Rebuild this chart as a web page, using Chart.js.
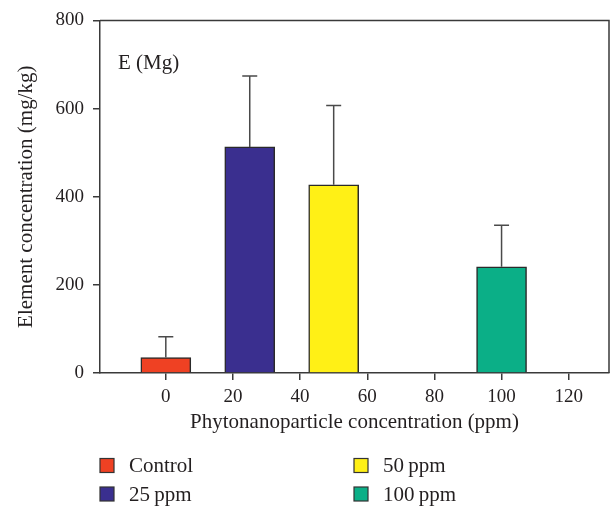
<!DOCTYPE html>
<html>
<head>
<meta charset="utf-8">
<script src="https://cdn.jsdelivr.net/npm/chart.js@4.4.1/dist/chart.umd.min.js"></script>
<style>
  html, body { margin: 0; padding: 0; background: #fff; }
  #wrap { width: 614px; height: 509px; position: relative; }
</style>
</head>
<body>
<div id="wrap"><canvas id="chart"></canvas></div>
<script>
  const groups = ["Control", "25\u2009ppm", "50\u2009ppm", "100\u2009ppm"];
  const doses = [0, 25, 50, 100];
  const means = [35, 513, 427, 241];
  const errors = [47, 161, 180, 94];
  const colors = ["#ef4123", "#3a2f8f", "#fff016", "#0baf87"];
  const xTicks = [0, 20, 40, 60, 80, 100, 120];
  const yTicks = [0, 200, 400, 600, 800];

  const ink = "#231f20";
  const lineColor = "#3a3a3a";
  const fontFamily = "'Liberation Serif', 'DejaVu Serif', serif";

  const errorBarPlugin = {
    id: "errorBarPlugin",
    afterDatasetsDraw(chart) {
      const { ctx, scales } = chart;
      ctx.save();
      ctx.strokeStyle = "#4a4a4a";
      ctx.lineWidth = 1.5;
      doses.forEach((dose, i) => {
        const x = scales.x.getPixelForValue(dose);
        const y0 = scales.y.getPixelForValue(means[i]);
        const y1 = scales.y.getPixelForValue(means[i] + errors[i]);
        ctx.beginPath();
        ctx.moveTo(x, y0);
        ctx.lineTo(x, y1);
        ctx.moveTo(x - 7.5, y1);
        ctx.lineTo(x + 7.5, y1);
        ctx.stroke();
      });
      ctx.restore();
    }
  };

  const framePlugin = {
    id: "framePlugin",
    afterDraw(chart) {
      const { ctx, chartArea } = chart;
      ctx.save();
      ctx.strokeStyle = lineColor;
      ctx.lineWidth = 1.5;
      ctx.beginPath();
      ctx.moveTo(chartArea.left, chartArea.top);
      ctx.lineTo(chartArea.right, chartArea.top);
      ctx.lineTo(chartArea.right, chartArea.bottom);
      ctx.stroke();

      // "E (Mg)" panel label
      ctx.fillStyle = ink;
      ctx.font = "21px " + fontFamily;
      ctx.textBaseline = "middle";
      ctx.textAlign = "left";
      ctx.fillText("E (Mg)", chartArea.left + 18, 63);
      ctx.restore();
    }
  };

  const legendPlugin = {
    id: "legendPlugin",
    afterDraw(chart) {
      const { ctx } = chart;
      const colX = [100, 354];
      const rowY = [465.5, 494];
      ctx.save();
      ctx.font = "21px " + fontFamily;
      ctx.textBaseline = "middle";
      ctx.textAlign = "left";
      groups.forEach((label, i) => {
        const x = colX[Math.floor(i / 2)];
        const y = rowY[i % 2];
        ctx.fillStyle = colors[i];
        ctx.fillRect(x, y - 7, 14, 14);
        ctx.strokeStyle = "#333";
        ctx.lineWidth = 1.2;
        ctx.strokeRect(x, y - 7, 14, 14);
        ctx.fillStyle = ink;
        ctx.fillText(label, x + 29, y + 1);
      });
      ctx.restore();
    }
  };

  new Chart(document.getElementById("chart"), {
    type: "bar",
    data: {
      datasets: [
        {
          data: doses.map((d, i) => ({ x: d, y: means[i] })),
          backgroundColor: colors,
          borderColor: "#2a2a2a",
          borderWidth: 1.5,
          barThickness: 50
        }
      ]
    },
    options: {
      responsive: true,
      maintainAspectRatio: false,
      animation: false,
      layout: {
        padding: { left: 0, top: 19, right: 5, bottom: 74 }
      },
      plugins: {
        legend: { display: false },
        tooltip: { enabled: false }
      },
      scales: {
        x: {
          type: "linear",
          offset: false,
          min: -19.6,
          max: 132,
          afterBuildTicks(scale) {
            scale.ticks = xTicks.map((v) => ({ value: v }));
          },
          afterFit(scale) {
            scale.height = 62;
          },
          ticks: {
            color: ink,
            padding: 6,
            maxRotation: 0,
            font: { family: fontFamily, size: 19 }
          },
          grid: {
            display: true,
            offset: false,
            drawOnChartArea: false,
            drawTicks: true,
            tickLength: 7,
            color: lineColor,
            lineWidth: 1.5
          },
          border: { display: true, color: lineColor, width: 1.5 },
          title: {
            display: true,
            text: "Phytonanoparticle concentration (ppm)",
            color: ink,
            padding: 0,
            font: { family: fontFamily, size: 21 }
          }
        },
        y: {
          min: 0,
          max: 800,
          afterBuildTicks(scale) {
            scale.ticks = yTicks.map((v) => ({ value: v }));
          },
          afterFit(scale) {
            scale.width = 100;
          },
          ticks: {
            color: ink,
            padding: 9,
            font: { family: fontFamily, size: 19 }
          },
          grid: {
            display: true,
            drawOnChartArea: false,
            drawTicks: true,
            tickLength: 7,
            color: lineColor,
            lineWidth: 1.5
          },
          border: { display: true, color: lineColor, width: 1.5 },
          title: {
            display: true,
            text: "Element concentration (mg/kg)",
            color: ink,
            padding: { top: 14, bottom: 0 },
            font: { family: fontFamily, size: 21 }
          }
        }
      }
    },
    plugins: [errorBarPlugin, framePlugin, legendPlugin]
  });
</script>
</body>
</html>
